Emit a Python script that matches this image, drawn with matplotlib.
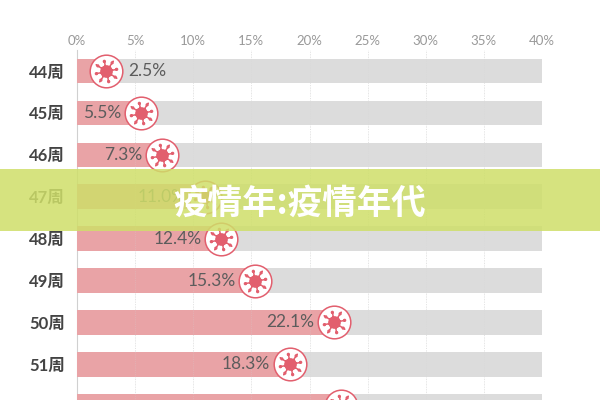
import matplotlib
matplotlib.use('Agg')
import matplotlib.pyplot as plt
from matplotlib.patches import Rectangle
from matplotlib.path import Path
import numpy as np

# 数据
weeks = ['44周', '45周', '46周', '47周', '48周', '49周', '50周', '51周', '52周']
values = [2.5, 5.5, 7.3, 11.0, 12.4, 15.3, 22.1, 18.3, 22.7]
value_labels = ['2.5%', '5.5%', '7.3%', '11.0%', '12.4%', '15.3%', '22.1%', '18.3%', '22.7%']
x_ticks = [0, 5, 10, 15, 20, 25, 30, 35, 40]
x_tick_labels = ['0%', '5%', '10%', '15%', '20%', '25%', '30%', '35%', '40%']
full_scale = 40
banner_text = '疫情年:疫情年代'

RED = '#e25f6e'
plt.rcParams['font.family'] = ['Lato', 'Noto Sans CJK SC', 'DejaVu Sans']


def virus_marker():
    # 病毒图标：中心圆 + 刺 + 小圆头 + 散点
    circle = Path.unit_circle()
    parts = [Path(circle.vertices * 0.5, circle.codes)]
    for a in np.deg2rad(np.arange(0, 360, 45) + 12):
        d = np.array([np.cos(a), np.sin(a)])
        n = np.array([-d[1], d[0]]) * 0.06
        spike = np.array([d * 0.4 - n, d * 0.8 - n, d * 0.8 + n, d * 0.4 + n, d * 0.4 - n])
        parts.append(Path(spike, [Path.MOVETO, Path.LINETO, Path.LINETO, Path.LINETO, Path.CLOSEPOLY]))
        parts.append(Path(circle.vertices * 0.13 + d * 0.82, circle.codes))
    for a in np.deg2rad(np.arange(0, 360, 90) + 57):
        d = np.array([np.cos(a), np.sin(a)])
        parts.append(Path(circle.vertices * 0.06 + d * 0.97, circle.codes))
    return Path.make_compound_path(*parts)


fig = plt.figure(figsize=(6, 4), dpi=100)
ax = fig.add_axes([77 / 600, 0, 465 / 600, 350 / 400])

rows = np.arange(len(weeks))
ax.barh(rows, [full_scale] * len(weeks), height=0.585, color='#dcdcdc', zorder=2)
ax.barh(rows, values, height=0.585, color='#e9a3a6', zorder=3)

for t in x_ticks[1:]:
    ax.axvline(t, color='#e6e6e6', lw=0.7, ls=':', zorder=1)
    ax.axvline(t, color='#d4d4d4', lw=0.5, ls=':', zorder=4, alpha=0.5)

# 气泡
ax.plot(values, rows, 'o', ms=23.5, mfc='white', mec=RED, mew=1.1, zorder=5, clip_on=False)
ax.plot(values, rows, ls='none', marker=virus_marker(), ms=17, mfc=RED, mec='none', zorder=6, clip_on=False)

# 数值标签
for i, (v, s) in enumerate(zip(values, value_labels)):
    if v < 3:
        ax.annotate(s, (v, i), xytext=(16, 0), textcoords='offset points', ha='left', va='center',
                    fontsize=12.5, color='#5c5c5c', zorder=7)
    else:
        ax.annotate(s, (v, i), xytext=(-14, 0), textcoords='offset points', ha='right', va='center',
                    fontsize=12.5, color='#5c5c5c', zorder=7)

ax.xaxis.tick_top()
ax.set_xticks(x_ticks)
ax.set_xticklabels(x_tick_labels, fontsize=9.5, color='#999999')
ax.set_yticks(rows)
ax.set_yticklabels(weeks, fontsize=12, color='#444444', fontweight='bold')
ax.set_xlim(0, full_scale)
ax.set_ylim(7.85, -0.5)
ax.tick_params(axis='both', length=0)
ax.tick_params(axis='x', pad=2.5)
ax.tick_params(axis='y', pad=8.5)
for name in ['top', 'right', 'bottom']:
    ax.spines[name].set_visible(False)
ax.spines['left'].set_color('#d0d0d0')
ax.spines['left'].set_linewidth(0.8)

# 横幅
fig.add_artist(Rectangle((0, 1 - 231 / 400), 1, 62 / 400, transform=fig.transFigure,
                         facecolor='#cfdf69', edgecolor='none', alpha=0.85, zorder=10))
fig.text(0.5, 1 - 203 / 400, banner_text, ha='center', va='center', fontsize=24.8, color='white',
         fontweight='black', family=['Noto Sans CJK SC', 'DejaVu Sans'], zorder=11)

fig.savefig('out.png', dpi=100)
